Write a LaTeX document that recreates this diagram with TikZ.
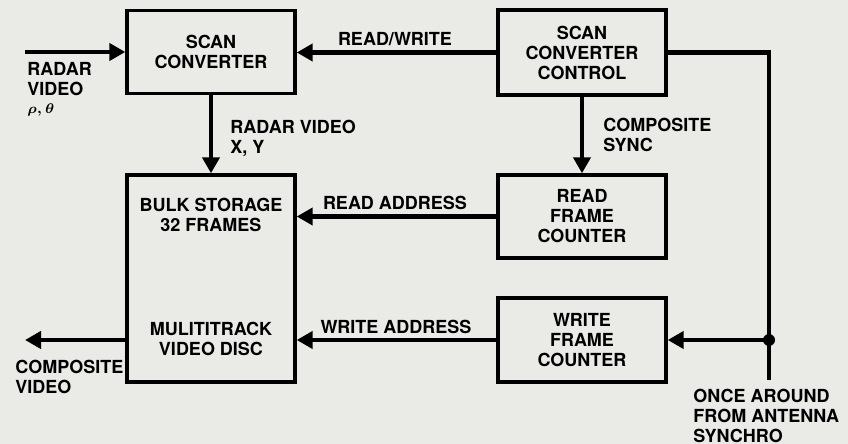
\documentclass[tikz,border=0pt]{standalone}
\usepackage{fontspec}
\setmainfont{TeX Gyre Heros}
\usetikzlibrary{arrows.meta}
\definecolor{paper}{RGB}{234,234,231}
\tikzset{
	blk/.style = {draw, line width=1.7pt, minimum width=84pt, align=center, inner sep=0pt},
	sig/.style = {line width=2.2pt, -{Triangle[length=8pt,width=8.5pt]}},
	wire/.style = {line width=2.2pt},
	lbl/.style = {align=left, inner sep=0pt, anchor=north west},
	hlbl/.style = {inner sep=0pt, anchor=north},
}
\begin{document}
\begin{tikzpicture}[x=0.5pt, y=-0.5pt, font=\bfseries\fontsize{9}{10}\selectfont]
		\fill[paper] (0,0) rectangle (848,444);
		\useasboundingbox (0,0) rectangle (848,444);
		%
		\node[blk, minimum height=41.5pt] (sc) at (211,52) {SCAN\\CONVERTER};
		\node[blk, minimum height=103.5pt] (bulk) at (211,278.5) {};
		\node[inner sep=0pt, align=center] (bs) at (211,215) {BULK STORAGE\\32 FRAMES};
		\node[inner sep=0pt, align=center] (vd) at (211,339) {MULITITRACK\\VIDEO DISC};
		\node[blk, minimum height=42.5pt] (scc) at (582,52.5) {SCAN\\CONVERTER\\CONTROL};
		\node[blk, minimum height=41.5pt] (rfc) at (582,216.5) {READ\\FRAME\\COUNTER};
		\node[blk, minimum height=42pt] (wfc) at (582,340) {WRITE\\FRAME\\COUNTER};
		%
		\coordinate (rvin) at (25,52);
		\coordinate (cvout) at (25,340);
		\coordinate (ant) at (769,380);
		\coordinate (dot) at (769,340);
		%
		\draw[sig] (rvin) -- (sc.west |- rvin);
		\draw[sig] (scc.west) -- (sc.east |- scc.west);
		\draw[sig] (sc.south) -- (bulk.north);
		\draw[sig] (scc.south) -- (rfc.north);
		\draw[sig] (rfc.west) -- (bulk.east |- rfc.west);
		\draw[sig] (wfc.west) -- (bulk.east |- wfc.west);
		\draw[sig] (bulk.west |- cvout) -- (cvout);
		\draw[wire] (scc.east) -| (ant);
		\draw[sig] (dot) -- (wfc.east);
		\fill (dot) circle (3pt);
		%
		\node[lbl] (rvlbl) at (27,62) {RADAR\\VIDEO\\[-1pt]{\fontsize{7}{8}\selectfont\boldmath$\rho,\theta$}};
		\node[hlbl] (rwlbl) at (395,32) {READ/WRITE};
		\node[lbl] (xylbl) at (230,120) {RADAR VIDEO\\X, Y};
		\node[lbl] (cslbl) at (603,118) {COMPOSITE\\SYNC};
		\node[hlbl] (ralbl) at (395,196) {READ ADDRESS};
		\node[hlbl] (walbl) at (396,320) {WRITE ADDRESS};
		\node[lbl] (cvlbl) at (15,360) {COMPOSITE\\VIDEO};
		\node[lbl] (antlbl) at (693,389) {ONCE AROUND\\FROM ANTENNA\\SYNCHRO};
		%
	\end{tikzpicture}
\end{document}
